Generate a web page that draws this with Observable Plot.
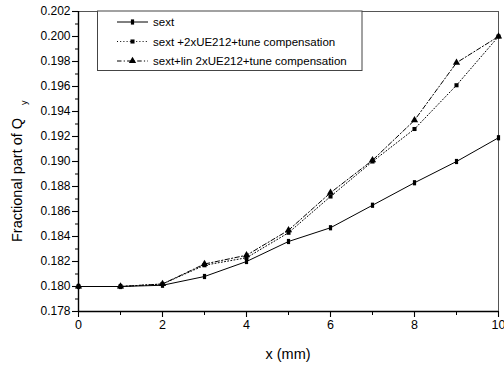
<!DOCTYPE html>
<html>
<head>
<meta charset="utf-8">
<script src="https://cdn.jsdelivr.net/npm/d3@7"></script>
<script src="https://cdn.jsdelivr.net/npm/@observablehq/plot@0.6"></script>
<style>
  html, body { margin: 0; padding: 0; background: #fff; }
  svg { font-family: "Liberation Sans", Arial, sans-serif; }
</style>
</head>
<body>
<div id="chart"></div>
<script>
// Horizontal offset (mm)
const xPos = [0, 1, 2, 3, 4, 5, 6, 7, 8, 9, 10];
// Fractional tune Q_y for each configuration
const sext      = [0.1800, 0.1800, 0.1801, 0.1808, 0.1820, 0.1836, 0.1847, 0.1865, 0.1883, 0.1900, 0.1919];
const sextUE    = [0.1800, 0.1800, 0.1802, 0.1817, 0.1823, 0.1843, 0.1872, 0.1900, 0.1926, 0.1961, 0.2000];
const sextLinUE = [0.1800, 0.1800, 0.1802, 0.1818, 0.1825, 0.1845, 0.1875, 0.1901, 0.1933, 0.1979, 0.2000];

const seriesNames = ["sext", "sext +2xUE212+tune compensation", "sext+lin 2xUE212+tune compensation"];

const xTicks = [0, 2, 4, 6, 8, 10];
const xMinor = [1, 3, 5, 7, 9];
const yTicks = [0.178, 0.180, 0.182, 0.184, 0.186, 0.188, 0.190, 0.192, 0.194, 0.196, 0.198, 0.200, 0.202];
const yMinor = [0.179, 0.181, 0.183, 0.185, 0.187, 0.189, 0.191, 0.193, 0.195, 0.197, 0.199, 0.201];

const rows = (ys) => xPos.map((x, i) => ({x, y: ys[i]}));
const dSext = rows(sext), dUE = rows(sextUE), dLin = rows(sextLinUE);

// small upright bar used as the marker of the plain sextupole curve
const barSymbol = {
  draw(context) { context.rect(-1.6, -2.6, 3.2, 5.2); }
};

const W = 504, H = 367;
const chart = Plot.plot({
  width: W,
  height: H,
  marginLeft: 78,
  marginRight: 6,
  marginTop: 11,
  marginBottom: 56,
  style: {fontFamily: "'Liberation Sans', Arial, sans-serif", background: "#fff"},
  x: {domain: [0, 10]},
  y: {domain: [0.178, 0.202]},
  marks: [
    Plot.frame({stroke: "#555", strokeWidth: 1}),
    Plot.axisY(yTicks, {tickSize: 6, tickPadding: 2, tickFormat: d3.format(".3f"), fontSize: 12, label: null, stroke: "#000", strokeWidth: 1.1}),
    Plot.axisY(yMinor, {tickSize: 3, tickFormat: () => "", label: null, strokeWidth: 1}),
    Plot.axisX(xTicks, {tickSize: 6, tickPadding: 3, fontSize: 12.5, label: null, strokeWidth: 1.1}),
    Plot.axisX(xMinor, {tickSize: 4, tickFormat: () => "", label: null, strokeWidth: 1}),
    Plot.ruleX([0], {stroke: "#000", strokeWidth: 1.4}),
    Plot.ruleY([0.178], {stroke: "#000", strokeWidth: 1.4}),
    Plot.line(dUE, {x: "x", y: "y", stroke: "#000", strokeWidth: 1, strokeDasharray: "1,2.2"}),
    Plot.line(dLin, {x: "x", y: "y", stroke: "#000", strokeWidth: 1, strokeDasharray: "4.5,2.2,1.2,2.2"}),
    Plot.line(dSext, {x: "x", y: "y", stroke: "#000", strokeWidth: 1}),
    Plot.dot(dUE, {x: "x", y: "y", symbol: "square", r: 2.3, fill: "#000", stroke: "none"}),
    Plot.dot(dLin, {x: "x", y: "y", symbol: "triangle", r: 2.7, fill: "#000", stroke: "none"}),
    Plot.dot(dSext, {x: "x", y: "y", symbol: barSymbol, r: 2, fill: "#000", stroke: "none"})
  ]
});

const svg = d3.select(chart);

// axis titles
svg.append("text")
  .attr("x", 288).attr("y", 359)
  .attr("text-anchor", "middle")
  .attr("font-size", 14.5)
  .attr("fill", "#000")
  .text("x (mm)");

const yl = svg.append("text")
  .attr("transform", "translate(22,242) rotate(-90)")
  .attr("text-anchor", "start")
  .attr("font-size", 14.5)
  .attr("fill", "#000");
yl.append("tspan").text("Fractional part of Q");
yl.append("tspan").attr("dx", 13).attr("dy", 5).attr("font-size", 9).text("y");

// legend box
const lg = svg.append("g").attr("text-anchor", "start");
lg.append("rect")
  .attr("x", 97.5).attr("y", 11).attr("width", 264.5).attr("height", 59.5)
  .attr("fill", "#fff").attr("stroke", "#444").attr("stroke-width", 1);
const legendRows = [
  {name: seriesNames[0], dash: null, sym: barSymbol, r: 2, cy: 22},
  {name: seriesNames[1], dash: "1,2.2", sym: d3.symbolSquare, r: 2.3, cy: 41.5},
  {name: seriesNames[2], dash: "4.5,2.2,1.2,2.2", sym: d3.symbolTriangle, r: 2.7, cy: 61}
];
legendRows.forEach(row => {
  lg.append("line")
    .attr("x1", 117).attr("x2", 148).attr("y1", row.cy).attr("y2", row.cy)
    .attr("stroke", "#000").attr("stroke-width", 1)
    .attr("stroke-dasharray", row.dash);
  lg.append("path")
    .attr("transform", `translate(132.5,${row.cy})`)
    .attr("d", d3.symbol(row.sym, row.r * row.r * Math.PI)())
    .attr("fill", "#000");
  lg.append("text")
    .attr("x", 153).attr("y", row.cy + 4)
    .attr("text-anchor", "start")
    .attr("font-size", 11.5)
    .attr("fill", "#000")
    .text(row.name);
});

document.getElementById("chart").appendChild(chart);
</script>
</body>
</html>
